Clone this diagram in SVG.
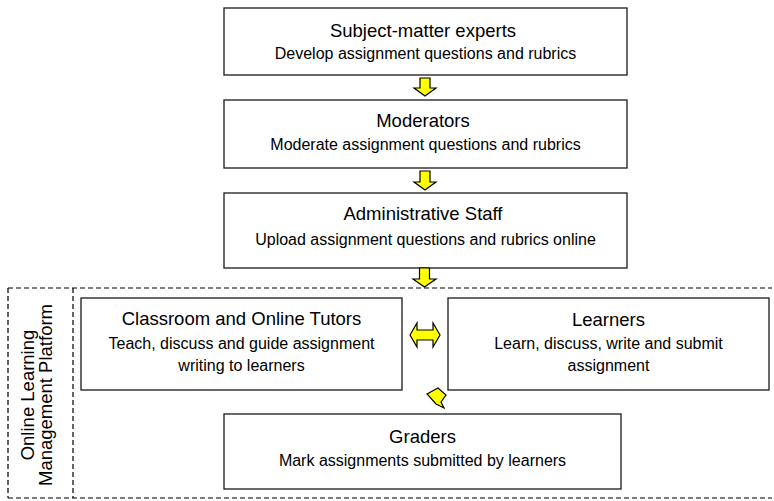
<svg xmlns="http://www.w3.org/2000/svg" width="774" height="501" viewBox="0 0 774 501">
<defs>
<style>
.box{fill:#fff;stroke:#1a1a1a;stroke-width:1.3}
.t{font-family:"Liberation Sans",Arial,sans-serif;font-size:18.5px;fill:#000;text-anchor:middle}
.s{font-family:"Liberation Sans",Arial,sans-serif;font-size:16px;fill:#000;text-anchor:middle}
.arr{fill:#ffff00;stroke:#000;stroke-width:1.2;stroke-linejoin:miter}
.dash{fill:none;stroke:#000;stroke-width:1.2;stroke-dasharray:5 3}
</style>
</defs>
<rect width="774" height="501" fill="#fff"/>
<g id="platform">
<path class="dash" d="M8,288 H772 M8,498 H772 M8,288 V498 M73,288 V498"/>
<text class="t" transform="translate(34,395) rotate(-90)">Online Learning</text>
<text class="t" transform="translate(52,395) rotate(-90)">Management Platform</text>
</g>
<g id="experts">
<rect class="box" x="224" y="8" width="403" height="67"/>
<text class="t" x="423" y="37">Subject-matter experts</text>
<text class="s" x="425.5" y="59">Develop assignment questions and rubrics</text>
</g>
<g id="moderators">
<rect class="box" x="224" y="100" width="403" height="68"/>
<text class="t" x="423" y="127">Moderators</text>
<text class="s" x="425.5" y="150">Moderate assignment questions and rubrics</text>
</g>
<g id="admin">
<rect class="box" x="224" y="193" width="403" height="75"/>
<text class="t" x="423" y="220">Administrative Staff</text>
<text class="s" x="425.5" y="245">Upload assignment questions and rubrics online</text>
</g>
<g id="tutors">
<rect class="box" x="81" y="298" width="321" height="92"/>
<text class="t" x="241.5" y="325">Classroom and Online Tutors</text>
<text class="s" x="241.5" y="349">Teach, discuss and guide assignment</text>
<text class="s" x="241.5" y="371">writing to learners</text>
</g>
<g id="learners">
<rect class="box" x="448" y="298" width="321" height="92"/>
<text class="t" x="608.5" y="326">Learners</text>
<text class="s" x="608.5" y="349">Learn, discuss, write and submit</text>
<text class="s" x="608.5" y="371">assignment</text>
</g>
<g id="graders">
<rect class="box" x="224" y="414" width="397" height="75"/>
<text class="t" x="422.5" y="443">Graders</text>
<text class="s" x="422.5" y="466">Mark assignments submitted by learners</text>
</g>
<g id="connectors">
<polygon class="arr" points="420,78 430,78 430,88 436,88 425,96 414,88 420,88"/>
<polygon class="arr" points="420,171 430,171 430,182 436,182 425,190 414,182 420,182"/>
<polygon class="arr" points="419.5,268 429.5,268 429.5,279 436,279 424.5,287 413,279 419.5,279"/>
<polygon class="arr" points="410,335 417,323 417,330 433,330 433,323 440,335 433,347 433,340 417,340 417,347"/>
<polygon class="arr" points="427,394 438,388 446,395 441,402 444,408 436,404"/>
</g>
</svg>
